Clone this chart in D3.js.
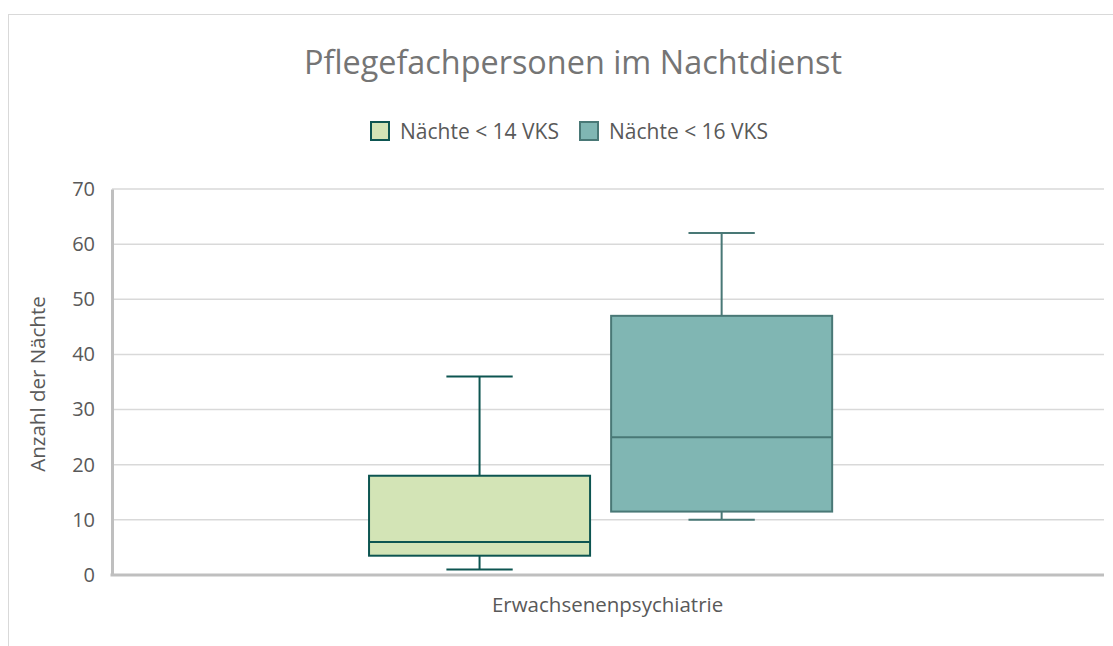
<!DOCTYPE html>
<html>
<head>
<meta charset="utf-8">
<script src="https://cdn.jsdelivr.net/npm/d3@7"></script>
<style>
  body { margin: 0; background: #fff; }
  text { font-family: "Open Sans", "Noto Sans", sans-serif; }
</style>
</head>
<body>
<svg id="chart" width="1113" height="646"></svg>
<script>
// data
const categories = ["Erwachsenenpsychiatrie"];
const series = ["Nächte < 14 VKS", "Nächte < 16 VKS"];
const whiskerLow = [1, 10];
const quartile1 = [3.5, 11.5];
const medians = [6, 25];
const quartile3 = [18, 47];
const whiskerHigh = [36, 62];
const yTicks = [0, 10, 20, 30, 40, 50, 60, 70];

const fills = ["#d3e4b6", "#80b6b3"];
const strokes = ["#0d5551", "#497876"];

const svg = d3.select("#chart");

// outer chart frame (runs off the picture on the right and bottom)
svg.append("rect")
    .attr("x", 8.5).attr("y", 14.5)
    .attr("width", 1200).attr("height", 700)
    .attr("fill", "none").attr("stroke", "#d9d9d9");

const plotLeft = 112, plotRight = 1104, plotTop = 189, plotBottom = 575;

const y = d3.scaleLinear().domain([0, 70]).range([plotBottom, plotTop]);

const x0 = d3.scaleBand().domain(categories).range([plotLeft, plotRight])
    .paddingInner(0).paddingOuter(0.571).align(0.486);
const x1 = d3.scaleBand().domain(series).range([0, x0.bandwidth()])
    .paddingInner(0.087);

// gridlines
svg.append("g")
    .selectAll("line")
    .data(yTicks.filter(d => d > 0))
    .join("line")
    .attr("x1", plotLeft).attr("x2", plotRight)
    .attr("y1", d => y(d)).attr("y2", d => y(d))
    .attr("stroke", "#d9d9d9").attr("stroke-width", 1.5);

// y axis
const yAxis = svg.append("g")
    .attr("transform", `translate(${plotLeft},0)`)
    .call(d3.axisLeft(y).tickValues(yTicks).tickSize(0).tickPadding(17));
yAxis.select(".domain").attr("stroke", "#bfbfbf").attr("stroke-width", 3);
yAxis.selectAll("text").attr("fill", "#595959").attr("font-size", 20)
    .attr("font-family", "'Open Sans', sans-serif");

// x axis (label sits at the middle of the whole plot width)
const xAxis = svg.append("g")
    .attr("transform", `translate(0,${plotBottom})`)
    .call(d3.axisBottom(x0).tickSize(0).tickPadding(22));
xAxis.select(".domain").attr("stroke", "#bfbfbf").attr("stroke-width", 3)
    .attr("d", `M${plotLeft - 1.5},0H${plotRight}`);
xAxis.selectAll("text").attr("fill", "#595959").attr("font-size", 20.5)
    .attr("font-family", "'Open Sans', sans-serif")
    .attr("transform", "translate(7,0)");

// boxes
const groups = svg.append("g")
    .selectAll("g")
    .data(series.map((s, i) => ({ s, i })))
    .join("g")
    .attr("transform", d => `translate(${x0(categories[0]) + x1(d.s)},0)`);

const bw = x1.bandwidth();
const capW = bw * 0.3;

groups.append("line")
    .attr("x1", bw / 2).attr("x2", bw / 2)
    .attr("y1", d => y(whiskerLow[d.i])).attr("y2", d => y(whiskerHigh[d.i]))
    .attr("stroke", d => strokes[d.i]).attr("stroke-width", 2);

groups.selectAll(".cap")
    .data(d => [whiskerLow[d.i], whiskerHigh[d.i]].map(v => ({ v, i: d.i })))
    .join("line")
    .attr("class", "cap")
    .attr("x1", bw / 2 - capW / 2).attr("x2", bw / 2 + capW / 2)
    .attr("y1", d => y(d.v)).attr("y2", d => y(d.v))
    .attr("stroke", d => strokes[d.i]).attr("stroke-width", 2);

groups.append("rect")
    .attr("x", 0).attr("width", bw)
    .attr("y", d => y(quartile3[d.i]))
    .attr("height", d => y(quartile1[d.i]) - y(quartile3[d.i]))
    .attr("fill", d => fills[d.i])
    .attr("stroke", d => strokes[d.i]).attr("stroke-width", 2);

groups.append("line")
    .attr("x1", 0).attr("x2", bw)
    .attr("y1", d => y(medians[d.i])).attr("y2", d => y(medians[d.i]))
    .attr("stroke", d => strokes[d.i]).attr("stroke-width", 2);

// y axis title
svg.append("text")
    .attr("transform", "translate(45,384) rotate(-90)")
    .attr("text-anchor", "middle")
    .attr("fill", "#595959").attr("font-size", 20.5)
    .text("Anzahl der Nächte");

// title
svg.append("text")
    .attr("x", 573).attr("y", 74)
    .attr("text-anchor", "middle")
    .attr("fill", "#757575").attr("font-size", 32.4)
    .text("Pflegefachpersonen im Nachtdienst");

// legend
const legendX = [371, 580];
const legend = svg.append("g")
    .selectAll("g")
    .data(series.map((s, i) => ({ s, i })))
    .join("g")
    .attr("transform", d => `translate(${legendX[d.i]},122)`);

legend.append("rect")
    .attr("width", 18).attr("height", 18)
    .attr("fill", d => fills[d.i])
    .attr("stroke", d => strokes[d.i]).attr("stroke-width", 2);

legend.append("text")
    .attr("x", 29).attr("y", 16.5)
    .attr("fill", "#595959").attr("font-size", 21)
    .text(d => d.s);
</script>
</body>
</html>
